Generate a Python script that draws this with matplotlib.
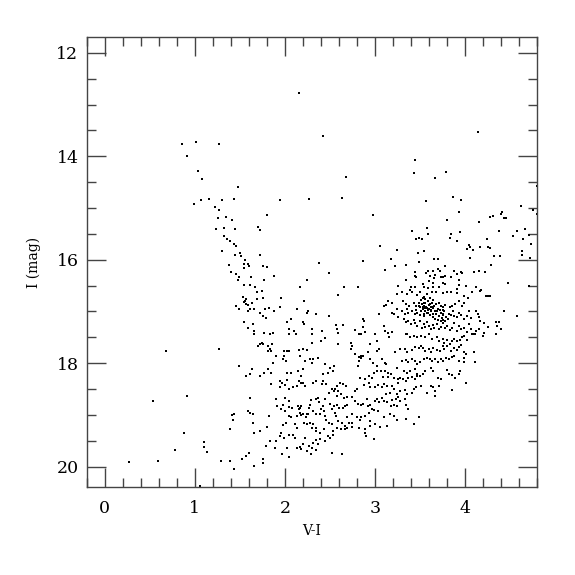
import numpy as np
import matplotlib
matplotlib.use("Agg")
import matplotlib.pyplot as plt
from matplotlib.ticker import MultipleLocator

# (V-I, I) pairs, grouped by region of the CMD
upper_branch = [
    (0.86, 13.76), (1.01, 13.72), (1.27, 13.76), (0.91, 14.00), (1.04, 14.28), (1.08, 14.43),
    (1.48, 14.60), (0.99, 14.93), (1.07, 14.84), (1.16, 14.82), (1.30, 14.84), (1.44, 14.83),
    (1.95, 14.84), (1.22, 14.98), (1.27, 15.04), (1.35, 15.17), (1.41, 15.24), (1.80, 15.13),
    (1.26, 15.20), (1.24, 15.40), (1.32, 15.38), (1.45, 15.41), (1.70, 15.37), (1.72, 15.43),
    (1.32, 15.55), (1.36, 15.59), (1.39, 15.64), (1.43, 15.69), (1.46, 15.74), (1.30, 15.84),
    (1.50, 15.87), (1.45, 15.90), (1.51, 15.93), (1.56, 16.00), (1.72, 15.91), (1.38, 16.10),
    (1.54, 16.08), (1.59, 16.08), (1.55, 16.15), (1.76, 16.13), (1.80, 16.14), (1.60, 16.13),
    (1.40, 16.24), (1.46, 16.28), (1.49, 16.34), (1.48, 16.40), (1.62, 16.34), (1.77, 16.39),
    (1.88, 16.31), (1.55, 16.48), (1.61, 16.48), (1.67, 16.52), (1.53, 16.72), (1.57, 16.75),
    (2.16, 12.78), (2.42, 13.61), (2.68, 14.40), (2.27, 14.83), (2.63, 14.81), (2.98, 15.13),
    (3.06, 15.73), (3.25, 15.82), (2.87, 16.03), (2.38, 16.06), (2.49, 16.25), (2.25, 16.40),
    (2.17, 16.53), (2.66, 16.52), (2.81, 16.53), (3.11, 16.19), (3.18, 15.99), (3.22, 16.13),
    (3.26, 16.50),
]

lower_left = [
    (0.68, 17.76), (1.27, 17.73), (1.49, 18.05), (1.57, 18.24), (0.54, 18.73), (0.91, 18.63),
    (1.43, 18.98), (1.41, 19.00), (1.42, 19.09), (1.59, 18.93), (1.39, 19.27), (0.88, 19.35),
    (0.78, 19.67), (1.10, 19.52), (1.10, 19.62), (1.13, 19.71), (0.27, 19.91), (0.59, 19.90),
    (1.29, 19.90), (1.39, 19.89), (1.43, 20.05), (1.52, 19.85), (1.57, 19.79), (1.60, 19.73),
    (1.06, 20.37), (1.61, 18.67), (1.56, 16.79), (1.54, 16.82), (1.57, 16.86), (1.59, 16.88),
    (1.46, 16.90), (1.49, 16.96), (1.59, 16.99), (1.54, 17.20), (1.59, 17.31),
]

mid_sequence = [
    (1.69, 16.62), (1.75, 16.61), (1.69, 16.76), (1.76, 16.74), (1.96, 16.73), (1.95, 16.91),
    (2.59, 16.68), (3.25, 16.66), (3.15, 16.79), (3.19, 16.83), (3.12, 16.87), (3.10, 16.89),
    (3.05, 17.04), (3.24, 16.95), (3.19, 17.02), (3.21, 17.05), (3.26, 17.10), (1.63, 16.84),
    (1.61, 16.95), (1.66, 16.95), (1.72, 17.02), (1.78, 16.95), (1.82, 16.94), (1.88, 16.99),
    (1.79, 17.12), (1.76, 17.08), (1.65, 17.25), (1.66, 17.37), (1.66, 17.43), (1.77, 17.41),
    (1.83, 17.43), (1.87, 17.41), (2.02, 17.21), (2.07, 17.15), (2.05, 17.34), (2.04, 17.43),
    (2.10, 17.37), (2.12, 17.44), (2.13, 16.95), (2.21, 16.79), (2.25, 17.02), (2.20, 17.21),
    (2.21, 17.25), (2.26, 17.00), (2.35, 17.04), (2.49, 17.08), (2.30, 17.34), (2.30, 17.43),
    (2.41, 17.37), (2.44, 17.51), (2.40, 17.58), (2.30, 17.60), (2.57, 17.27), (2.58, 17.34),
    (2.59, 17.41), (2.64, 17.26), (2.59, 17.63), (2.87, 17.15), (2.88, 17.19), (2.87, 17.30),
    (2.89, 17.39), (2.78, 17.36), (2.82, 17.43), (2.84, 17.44), (3.00, 17.44), (3.02, 17.57),
    (3.10, 17.28), (3.11, 17.37), (3.15, 17.41), (3.19, 17.39), (3.16, 17.50), (3.05, 17.73),
    (3.02, 17.76), (2.95, 17.63), (2.92, 17.79), (2.87, 17.86), (2.84, 17.86), (2.82, 17.88),
    (2.73, 17.60), (2.74, 17.66), (2.73, 17.73), (2.78, 17.83), (2.82, 17.96), (2.81, 18.05),
    (2.84, 17.89), (2.95, 17.92), (2.98, 17.99), (3.02, 18.05), (3.08, 17.92), (3.11, 17.99),
    (3.12, 18.02), (3.24, 18.09), (3.22, 17.78), (3.26, 18.31), (3.24, 18.60), (3.24, 19.09),
    (1.72, 17.63), (1.76, 17.62), (1.81, 17.66), (1.83, 17.72), (1.85, 17.76), (1.81, 17.76),
    (1.86, 17.63), (1.74, 17.60), (1.70, 17.66), (1.63, 18.12), (1.61, 18.21), (1.72, 18.25),
    (1.77, 18.18), (1.81, 18.12), (1.85, 18.18), (1.90, 17.86), (1.87, 17.99), (1.99, 17.76),
    (2.02, 17.76), (2.05, 17.77), (1.98, 17.92), (2.01, 17.96), (1.99, 17.86), (2.16, 17.74),
    (2.20, 17.73), (2.25, 17.74), (2.17, 17.86), (2.22, 17.96), (2.28, 17.92), (2.30, 17.99),
    (2.37, 17.90), (2.31, 17.91), (2.45, 18.02), (2.48, 18.18), (2.42, 18.21), (2.50, 18.09),
    (2.53, 18.15), (2.55, 18.05), (2.15, 18.15), (2.20, 18.12), (2.18, 18.25), (2.07, 18.18),
    (2.02, 18.18), (1.95, 18.34), (1.97, 18.38), (2.02, 18.33), (2.00, 18.43), (1.94, 18.47),
    (1.85, 18.40), (2.05, 18.50), (2.09, 18.47), (2.13, 18.44), (2.16, 18.34), (2.18, 18.38),
    (2.20, 18.38), (2.22, 18.44), (2.31, 18.38), (2.35, 18.34), (2.42, 18.34), (2.41, 18.41),
    (2.46, 18.41), (2.52, 18.50), (2.49, 18.57), (2.54, 18.54), (2.56, 18.50), (2.58, 18.44),
    (2.61, 18.38), (2.65, 18.41), (2.68, 18.44), (2.59, 18.54), (2.62, 18.59), (2.58, 18.63),
    (2.66, 18.68), (2.69, 18.65), (2.74, 18.65), (2.78, 18.54), (2.80, 18.50), (2.83, 18.29),
    (2.89, 18.31), (2.93, 18.25), (2.93, 18.38), (2.97, 18.29), (2.99, 18.18), (3.02, 18.15),
    (3.07, 18.15), (3.11, 18.15), (3.15, 18.18), (3.09, 18.27), (3.14, 18.27), (3.18, 18.21),
    (3.21, 18.29), (3.26, 18.38), (2.88, 18.42), (2.95, 18.47), (3.00, 18.47), (3.03, 18.42),
    (3.08, 18.47), (3.10, 18.41), (3.13, 18.44), (3.19, 18.44), (3.21, 18.50), (3.17, 18.57),
    (3.12, 18.60), (3.08, 18.67), (3.02, 18.70), (3.00, 18.73), (3.04, 18.76), (3.10, 18.73),
    (3.13, 18.76), (3.19, 18.72), (3.23, 18.70), (3.26, 18.65), (3.21, 18.80), (3.18, 18.83),
    (3.24, 18.83), (2.78, 18.73), (2.81, 18.78), (2.84, 18.81), (2.87, 18.78), (2.91, 18.70),
    (2.92, 18.83), (2.95, 18.80), (2.97, 18.89), (2.99, 18.91), (3.03, 18.92), (2.93, 18.96),
    (2.89, 19.02), (2.85, 19.05), (2.83, 19.09), (2.80, 19.04), (2.75, 18.99), (2.69, 19.05),
    (2.71, 19.15), (2.74, 19.15), (2.69, 19.25), (2.67, 19.22), (2.63, 19.15), (2.59, 19.11),
    (2.57, 19.02), (2.56, 18.96), (2.52, 18.89), (2.54, 18.83), (2.58, 18.81), (2.60, 18.86),
    (2.64, 18.87), (2.67, 18.83), (2.69, 18.80), (2.50, 18.78), (2.44, 18.70), (2.42, 18.83),
    (2.38, 18.76), (2.40, 18.89), (2.43, 18.92), (2.44, 19.02), (2.46, 19.09), (2.49, 19.15),
    (2.52, 19.18), (2.53, 19.31), (2.58, 19.25), (2.62, 19.28), (2.67, 19.28), (2.74, 19.23),
    (2.82, 19.25), (2.89, 19.28), (2.95, 19.22), (2.95, 19.12), (3.00, 19.17), (3.06, 19.23),
    (3.13, 19.22), (3.10, 19.05), (3.17, 18.99), (3.21, 19.02), (3.25, 19.09), (2.89, 19.35),
    (2.90, 19.40), (2.99, 19.47), (2.29, 18.72), (2.34, 18.70), (2.37, 18.67), (2.28, 18.80),
    (2.27, 18.86), (2.31, 18.92), (2.35, 18.98), (2.39, 18.98), (2.26, 18.99), (2.23, 19.05),
    (2.21, 19.15), (2.24, 19.17), (2.28, 19.15), (2.31, 19.17), (2.30, 19.25), (2.35, 19.25),
    (2.34, 19.31), (2.39, 19.35), (2.43, 19.28), (2.48, 19.41), (2.50, 19.44), (2.53, 19.38),
    (2.44, 19.50), (2.39, 19.47), (2.35, 19.49), (2.31, 19.54), (2.37, 19.57), (2.27, 19.60),
    (2.30, 19.64), (2.22, 19.44), (2.20, 19.57), (2.17, 19.62), (2.13, 19.64), (2.18, 19.65),
    (2.25, 19.70), (2.29, 19.75), (2.35, 19.67), (2.52, 19.73), (2.63, 19.75), (2.11, 19.44),
    (2.09, 19.38), (2.13, 19.25), (2.11, 19.18), (2.07, 19.05), (2.05, 19.02), (2.08, 18.86),
    (2.14, 18.83), (2.17, 18.86), (2.18, 18.83), (2.16, 18.89), (2.17, 18.96), (2.13, 19.02),
    (2.18, 19.00), (2.20, 18.98), (2.24, 18.98), (2.05, 18.85), (2.05, 18.73), (2.00, 18.68),
    (1.98, 18.81), (1.91, 18.83), (1.96, 18.89), (2.00, 18.92), (2.01, 19.15), (1.98, 19.20),
    (1.96, 19.35), (1.95, 19.41), (1.99, 19.44), (2.04, 19.38), (2.02, 19.64), (2.05, 19.81),
    (1.97, 19.76), (1.90, 19.50), (1.89, 19.64), (1.83, 19.50), (1.79, 19.60), (1.80, 19.23),
    (1.82, 19.02), (1.90, 18.70), (1.72, 19.31), (1.66, 19.35), (1.65, 19.15), (1.61, 18.96),
    (1.65, 18.99), (1.76, 19.86), (1.76, 19.93), (1.66, 19.99),
]

red_upper = [
    (4.14, 13.53), (3.44, 14.07), (3.43, 14.32), (3.79, 14.30), (3.67, 14.42), (4.80, 14.58),
    (3.87, 14.78), (3.57, 14.87), (3.96, 14.85), (3.93, 15.08), (3.80, 15.24), (4.16, 15.27),
    (4.62, 14.97), (4.75, 15.04), (4.80, 15.11), (4.28, 15.18), (4.31, 15.16), (4.40, 15.11),
    (4.41, 15.08), (4.43, 15.19), (4.45, 15.20), (3.41, 15.44), (3.58, 15.38), (3.59, 15.51),
    (3.46, 15.60), (3.49, 15.57), (3.52, 15.60), (3.84, 15.51), (3.83, 15.57), (3.94, 15.47),
    (3.91, 15.63), (4.04, 15.71), (4.02, 15.80), (4.06, 15.76), (4.09, 15.81), (4.17, 15.76),
    (4.24, 15.60), (4.26, 15.76), (4.28, 15.77), (4.38, 15.45), (4.53, 15.55), (4.58, 15.45),
    (4.67, 15.40), (4.64, 15.59), (4.71, 15.53), (4.73, 15.69), (4.63, 15.84), (4.63, 15.91),
    (4.72, 15.96), (3.48, 15.87), (3.54, 15.84), (3.49, 16.04), (3.66, 15.98), (3.70, 15.99),
    (4.05, 15.96), (4.32, 15.93), (4.39, 15.92), (4.29, 16.10), (3.34, 16.11), (3.45, 16.24),
    (3.44, 16.31), (3.46, 16.33), (3.34, 16.39), (3.57, 16.26), (3.59, 16.21), (3.64, 16.21),
    (3.61, 16.31), (3.67, 16.29), (3.70, 16.18), (3.72, 16.21), (3.78, 16.12), (3.66, 16.36),
    (3.73, 16.34), (3.76, 16.33), (3.78, 16.31), (3.84, 16.34), (3.88, 16.21), (3.91, 16.28),
    (3.95, 16.24), (3.97, 16.25), (3.93, 16.39), (4.10, 16.24), (4.16, 16.22), (4.22, 16.23),
    (4.48, 16.44), (4.71, 16.50), (3.60, 16.42), (3.64, 16.44), (3.76, 16.44), (3.78, 16.46),
    (3.53, 16.47), (3.40, 16.52), (3.45, 16.52), (3.54, 16.52), (3.59, 16.55), (3.65, 16.53),
    (3.71, 16.52), (3.93, 16.48), (4.01, 16.51), (4.12, 16.53), (3.91, 16.57), (4.18, 16.59),
    (3.39, 16.59),
]

red_clump = [
    (3.30, 16.63), (3.36, 16.66), (3.41, 16.63), (3.47, 16.68), (3.50, 16.63), (3.54, 16.72),
    (3.58, 16.66), (3.63, 16.63), (3.68, 16.62), (3.75, 16.65), (3.80, 16.63), (3.84, 16.62),
    (3.91, 16.65), (3.99, 16.70), (4.03, 16.73), (4.08, 16.62), (4.17, 16.61), (4.23, 16.71),
    (4.25, 16.70), (4.28, 16.70), (4.43, 16.99), (4.58, 17.08), (3.31, 16.79), (3.35, 16.86),
    (3.38, 16.89), (3.43, 16.83), (3.46, 16.89), (3.49, 16.84), (3.51, 16.78), (3.53, 16.73),
    (3.56, 16.76), (3.59, 16.79), (3.61, 16.74), (3.63, 16.83), (3.65, 16.78), (3.68, 16.86),
    (3.71, 16.83), (3.73, 16.89), (3.76, 16.92), (3.78, 16.87), (3.83, 16.91), (3.86, 16.89),
    (3.89, 16.86), (3.93, 16.79), (3.97, 16.89), (3.99, 16.84), (3.30, 16.99), (3.33, 17.05),
    (3.36, 16.95), (3.37, 17.02), (3.41, 17.00), (3.44, 17.05), (3.46, 16.97), (3.47, 17.02),
    (3.50, 17.06), (3.51, 17.00), (3.53, 16.95), (3.54, 17.04), (3.55, 17.08), (3.56, 16.99),
    (3.58, 16.94), (3.59, 17.02), (3.61, 17.06), (3.62, 16.97), (3.63, 16.91), (3.64, 17.04),
    (3.65, 17.10), (3.67, 16.99), (3.68, 17.05), (3.70, 16.95), (3.71, 17.08), (3.73, 17.02),
    (3.74, 17.12), (3.76, 17.06), (3.77, 16.99), (3.79, 17.10), (3.82, 17.04), (3.84, 17.06),
    (3.87, 17.00), (3.88, 17.08), (3.91, 17.10), (3.93, 17.02), (3.96, 17.06), (3.99, 17.15),
    (4.02, 17.08), (4.04, 17.00), (4.07, 17.12), (4.12, 16.99), (4.14, 17.04), (4.17, 17.18),
    (4.21, 17.23), (4.25, 17.30), (4.34, 17.21), (4.38, 17.21), (4.35, 17.28), (4.40, 17.34),
    (4.34, 17.44), (4.15, 17.10), (3.32, 17.15), (3.35, 17.21), (3.37, 17.19), (3.40, 17.25),
    (3.43, 17.17), (3.45, 17.23), (3.47, 17.28), (3.50, 17.19), (3.52, 17.31), (3.54, 17.25),
    (3.56, 17.30), (3.58, 17.21), (3.60, 17.28), (3.62, 17.34), (3.65, 17.26), (3.66, 17.31),
    (3.69, 17.25), (3.71, 17.34), (3.73, 17.30), (3.76, 17.23), (3.78, 17.32), (3.80, 17.28),
    (3.83, 17.36), (3.86, 17.31), (3.88, 17.23), (3.91, 17.37), (3.93, 17.28), (3.96, 17.34),
    (3.99, 17.32), (4.02, 17.39), (4.04, 17.25), (4.07, 17.34), (4.09, 17.43), (4.12, 17.37),
    (4.15, 17.34), (4.21, 17.41), (4.20, 17.47), (3.34, 17.44), (3.36, 17.43), (3.39, 17.50),
    (3.43, 17.47), (3.47, 17.50), (3.51, 17.47), (3.56, 17.50), (3.60, 17.44), (3.63, 17.54),
    (3.69, 17.49), (3.71, 17.58), (3.75, 17.54), (3.77, 17.60), (3.80, 17.55), (3.83, 17.63),
    (3.85, 17.57), (3.88, 17.54), (3.91, 17.57), (3.94, 17.55), (3.97, 17.50), (3.99, 17.47),
    (4.02, 17.55), (4.08, 17.44), (4.11, 17.43), (3.28, 17.73), (3.33, 17.73), (3.36, 17.79),
    (3.41, 17.75), (3.45, 17.68), (3.49, 17.70), (3.51, 17.66), (3.53, 17.71), (3.56, 17.76),
    (3.60, 17.73), (3.62, 17.79), (3.65, 17.70), (3.69, 17.75), (3.72, 17.76), (3.75, 17.66),
    (3.77, 17.73), (3.80, 17.66), (3.84, 17.76), (3.88, 17.70), (3.91, 17.75), (3.93, 17.68),
    (3.96, 17.65), (3.99, 17.79), (4.01, 17.83), (4.10, 17.79), (4.11, 17.97), (3.30, 17.96),
    (3.34, 17.94), (3.37, 17.97), (3.41, 17.92), (3.45, 17.96), (3.47, 18.01), (3.50, 17.97),
    (3.54, 17.92), (3.58, 17.89), (3.61, 17.92), (3.63, 17.96), (3.67, 17.92), (3.70, 17.97),
    (3.73, 17.92), (3.76, 17.96), (3.79, 17.89), (3.82, 17.92), (3.85, 17.88), (3.88, 17.86),
    (3.93, 17.96), (3.99, 17.89), (3.99, 17.97), (3.32, 18.15), (3.36, 18.18), (3.39, 18.15),
    (3.44, 18.12), (3.47, 18.21), (3.50, 18.25), (3.53, 18.21), (3.56, 18.16), (3.62, 18.10),
    (3.65, 18.15), (3.70, 18.29), (3.73, 18.31), (3.80, 18.14), (3.82, 18.20), (3.86, 18.23),
    (3.89, 18.29), (3.93, 18.20), (3.94, 18.15), (4.01, 18.38), (3.28, 18.28), (3.31, 18.31),
    (3.34, 18.34), (3.37, 18.28), (3.41, 18.27), (3.45, 18.31), (3.47, 18.25), (3.28, 18.54),
    (3.33, 18.52), (3.36, 18.60), (3.41, 18.57), (3.43, 18.50), (3.46, 18.47), (3.51, 18.44),
    (3.58, 18.57), (3.62, 18.44), (3.65, 18.47), (3.67, 18.54), (3.67, 18.63), (3.71, 18.44),
    (3.86, 18.52), (3.28, 18.73), (3.33, 18.70), (3.34, 18.80), (3.37, 18.89), (3.35, 19.07),
    (3.43, 19.18), (3.49, 19.05), (3.52, 16.86), (3.55, 16.89), (3.57, 16.91), (3.60, 16.87),
    (3.62, 16.92), (3.56, 16.83), (3.59, 16.97), (3.53, 16.91), (3.54, 16.83), (3.61, 16.86),
    (3.62, 17.00), (3.56, 16.94), (3.58, 17.02), (3.60, 16.95), (3.65, 16.94), (3.66, 16.89),
    (3.69, 16.99), (3.72, 16.97), (3.75, 16.97), (3.76, 17.04), (3.50, 16.92), (3.49, 16.89),
    (3.67, 17.15), (3.70, 17.17), (3.73, 17.19), (3.76, 17.17), (3.78, 17.18), (3.81, 17.15),
]

xlim = (-0.2, 4.8)
ylim = (20.4, 11.7)

pts = np.array(upper_branch + lower_left + mid_sequence + red_upper + red_clump)
vi, imag = pts[:, 0], pts[:, 1]

plt.rcParams['font.family'] = ['DejaVu Serif']

fig = plt.figure(figsize=(5.75, 5.75), dpi=100)
ax = fig.add_axes([0.151, 0.1525, 0.783, 0.7825])

ax.plot(vi, imag, ls='none', marker='s', ms=1.5, mew=0, color='black')

ax.set_xlim(*xlim)
ax.set_ylim(*ylim)

ax.xaxis.set_major_locator(MultipleLocator(1))
ax.xaxis.set_minor_locator(MultipleLocator(0.2))
ax.yaxis.set_major_locator(MultipleLocator(2))
ax.yaxis.set_minor_locator(MultipleLocator(0.5))

edge = '#444444'
for s in ax.spines.values():
    s.set_color(edge)
    s.set_linewidth(1.0)

ax.tick_params(which='both', direction='in', top=True, right=True, color=edge, width=1.0)
ax.tick_params(which='major', length=13.5, labelsize=12.5)
ax.tick_params(axis='x', which='major', pad=9)
ax.tick_params(axis='y', which='major', pad=6)
ax.tick_params(which='minor', length=6.5)

ax.set_xlabel('V-I', fontsize=10, labelpad=5)
ax.set_ylabel('I (mag)', fontsize=10, labelpad=11)

fig.savefig('out.png', dpi=100)
